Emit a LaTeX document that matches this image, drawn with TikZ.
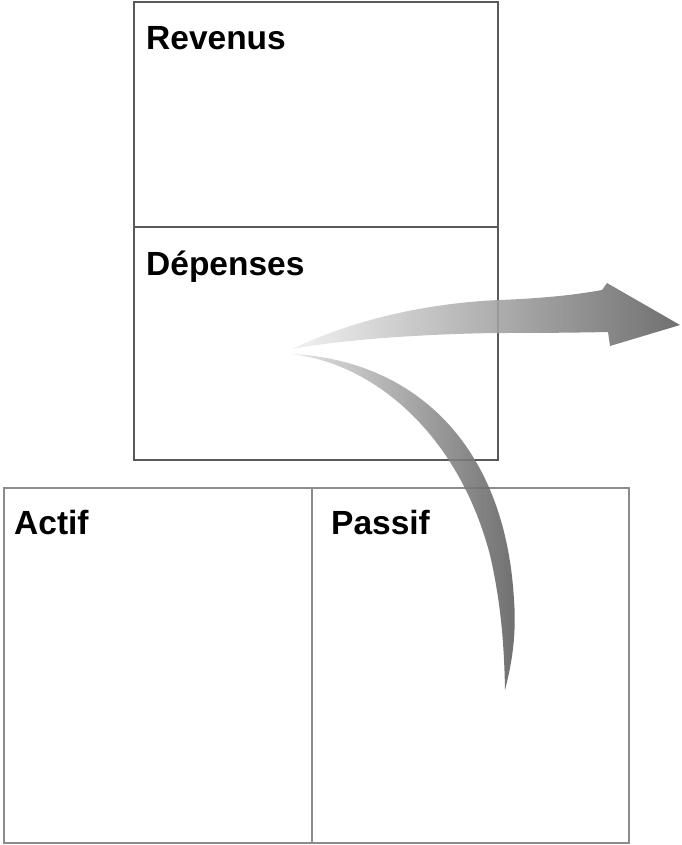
\documentclass[tikz,border=0pt]{standalone}
\usepackage{fontspec}
\setmainfont{Liberation Sans}
\begin{document}
\begin{tikzpicture}[x=1pt,y=-1pt,
  lbl/.style={anchor=base west,inner sep=0pt,font=\fontsize{33.5}{38}\selectfont\bfseries},
  topline/.style={draw=black!65,line width=1.1pt},
  botline/.style={draw=black!45,line width=1.6pt},
  flow/.style={fill opacity=0.88}]
\useasboundingbox (0,0) rectangle (681,845);
% boxes
\coordinate (tl) at (134,2);
\coordinate (tr) at (498,460);
\coordinate (bl) at (4,488);
\coordinate (br) at (629,843);
\draw[topline] (tl) rectangle (tr);
\draw[topline] (134,227) -- (498,227);
\draw[botline] (bl) rectangle (br);
\draw[botline] (312,488) -- (312,843);
% labels
\node[lbl] (rev) at (146,49.5) {Revenus};
\node[lbl] (dep) at (146,275) {Dépenses};
\node[lbl] (act) at (14,534.5) {Actif};
\node[lbl] (pas) at (331,534.5) {Passif};
% right arrow
\shade[flow,left color=black!6,right color=black!64]
  (292,349) .. controls (370,312) and (450,302) .. (500,300)
  .. controls (550,298) and (580,294) .. (602,290)
  -- (607,283) -- (680,325) -- (610,346) -- (608,332)
  .. controls (560,333) and (520,333) .. (498,333)
  .. controls (420,334) and (340,340) .. cycle;
% down arrow
\shade[flow,left color=black!12,right color=black!64]
  (292,354) .. controls (410,360) and (505,440) .. (514,600)
  .. controls (517,640) and (510,670) .. (505,690)
  .. controls (504,630) and (498,590) .. (490,555)
  .. controls (460,440) and (380,365) .. cycle;
\end{tikzpicture}
\end{document}
